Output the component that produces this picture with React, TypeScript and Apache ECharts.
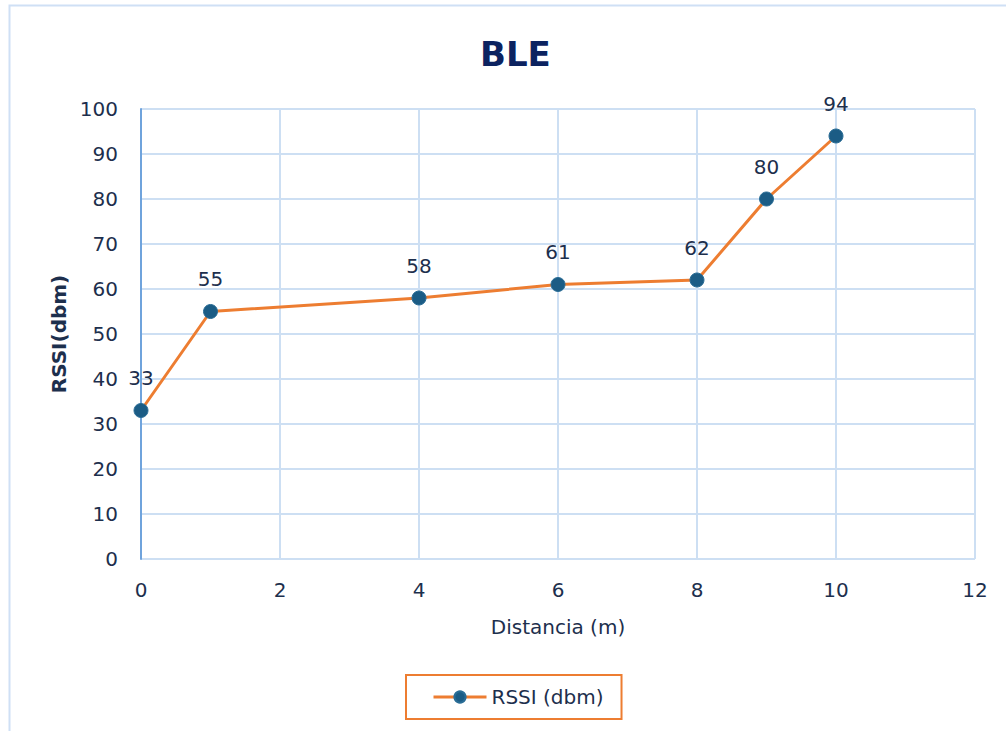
import React, { useEffect, useRef } from "react";
import * as echarts from "echarts";

// Distance (m) and RSSI readings
const distances: number[] = [0, 1, 4, 6, 8, 9, 10];
const rssi: number[] = [33, 55, 58, 61, 62, 80, 94];

const TEXT = "#1d2f4d";
const GRID = "#cddff3";
const FONT = "'DejaVu Sans', 'Noto Sans', sans-serif";

export default function App() {
  const ref = useRef<HTMLDivElement>(null);

  useEffect(() => {
    if (!ref.current) return;
    const chart = echarts.init(ref.current, null, { renderer: "svg" });
    const points = distances.map((d, i) => [d, rssi[i]]);
    chart.setOption({
      animation: false,
      backgroundColor: "#ffffff",
      textStyle: { fontFamily: FONT },
      title: {
        text: "BLE",
        left: 475,
        top: 32,
        textStyle: { color: "#0c2360", fontSize: 34, fontWeight: 900, fontFamily: FONT },
      },
      graphic: [
        {
          type: "rect",
          shape: { x: 9.5, y: 5.5, width: 1100, height: 900 },
          style: { fill: "none", stroke: "#cfe0f5", lineWidth: 2 },
          silent: true,
        },
      ],
      legend: {
        bottom: 12,
        left: 406,
        borderColor: "#ed7d31",
        borderWidth: 2,
        borderRadius: 0,
        padding: [12, 18, 12, 26],
        itemWidth: 53,
        itemHeight: 14,
        itemGap: 6,
        lineStyle: { width: 3 },
        textStyle: { color: TEXT, fontSize: 20, fontFamily: FONT },
        data: ["RSSI (dbm)"],
      },
      grid: { left: 141, right: 31, top: 109, bottom: 172, containLabel: false },
      xAxis: {
        type: "value",
        min: 0,
        max: 12,
        interval: 2,
        name: "Distancia (m)",
        nameLocation: "middle",
        nameGap: 58,
        nameTextStyle: { color: TEXT, fontSize: 20, fontFamily: FONT },
        axisLine: { show: false },
        axisTick: { show: false },
        axisLabel: { color: TEXT, fontSize: 20, margin: 21 },
        splitLine: { show: true, lineStyle: { color: GRID, width: 2 } },
      },
      yAxis: {
        type: "value",
        min: 0,
        max: 100,
        interval: 10,
        name: "RSSI(dbm)",
        nameLocation: "middle",
        nameGap: 70,
        nameTextStyle: { color: TEXT, fontSize: 20, fontWeight: "bold", fontFamily: FONT },
        axisLine: { show: true, lineStyle: { color: "#6fa3dc", width: 2 } },
        axisTick: { show: false },
        axisLabel: { color: TEXT, fontSize: 20, margin: 23 },
        splitLine: { show: true, lineStyle: { color: GRID, width: 2 } },
      },
      series: [
        {
          name: "RSSI (dbm)",
          type: "line",
          data: points,
          symbol: "circle",
          symbolSize: 14,
          lineStyle: { color: "#ed7d31", width: 3 },
          itemStyle: { color: "#1b5c85", borderColor: "#2a6d96", borderWidth: 1 },
          label: {
            show: true,
            position: "top",
            distance: 15,
            color: TEXT,
            fontSize: 20,
            fontFamily: FONT,
          },
          z: 3,
        },
      ],
    });
    return () => chart.dispose();
  }, []);

  return (
    <div
      ref={ref}
      style={{ position: "fixed", left: 0, top: 0, width: 1006, height: 731 }}
    />
  );
}
